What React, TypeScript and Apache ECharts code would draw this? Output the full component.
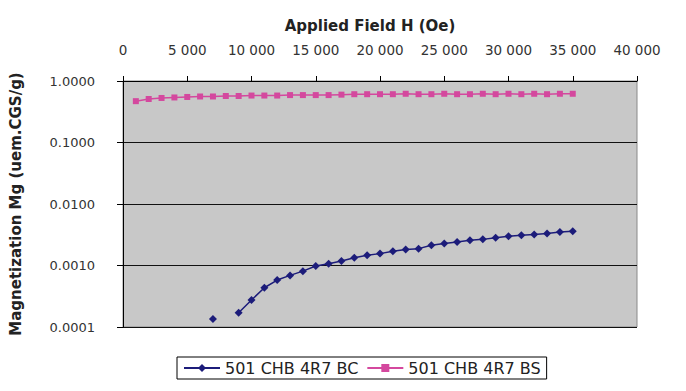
import React, { useEffect, useRef } from "react";
import * as echarts from "echarts";

const fieldH = [
  1000, 2000, 3000, 4000, 5000, 6000, 7000, 8000, 9000, 10000,
  11000, 12000, 13000, 14000, 15000, 16000, 17000, 18000, 19000, 20000,
  21000, 22000, 23000, 24000, 25000, 26000, 27000, 28000, 29000, 30000,
  31000, 32000, 33000, 34000, 35000,
];

const seriesBC = [
  null, null, null, null, null, null, 0.000135, null, 0.00017, 0.000275,
  0.000435, 0.00058, 0.00069, 0.00081, 0.00098, 0.00107, 0.00118, 0.00134, 0.00147, 0.00156,
  0.0017, 0.00182, 0.00188, 0.00214, 0.00228, 0.0024, 0.00257, 0.00266, 0.00283, 0.003,
  0.0031, 0.0032, 0.0033, 0.0035, 0.0036,
];

const seriesBS = [
  0.47, 0.51, 0.53, 0.54, 0.55, 0.56, 0.56, 0.57, 0.57, 0.58,
  0.58, 0.58, 0.59, 0.59, 0.59, 0.59, 0.6, 0.61, 0.61, 0.61,
  0.61, 0.62, 0.61, 0.61, 0.62, 0.61, 0.61, 0.62, 0.61, 0.62,
  0.61, 0.62, 0.61, 0.62, 0.62,
];

const seriesNames = ["501 CHB 4R7 BC", "501 CHB 4R7 BS"];
const xTickLabels = ["0", "5 000", "10 000", "15 000", "20 000", "25 000", "30 000", "35 000", "40 000"];
const yTickLabels = ["0.0001", "0.0010", "0.0100", "0.1000", "1.0000"];

const FONT = "DejaVu Sans";

export default function App() {
  const ref = useRef<HTMLDivElement>(null);
  useEffect(() => {
    if (!ref.current) return;
    const chart = echarts.init(ref.current, null, { renderer: "svg" });
    const toPairs = (vals: (number | null)[]) =>
      fieldH.map((h, i) => [h, vals[i] === null ? "-" : vals[i]]);
    chart.setOption({
      animation: false,
      backgroundColor: "#ffffff",
      grid: {
        left: 116,
        right: 49,
        top: 81,
        bottom: 64,
        show: true,
        backgroundColor: "#c8c8c8",
        borderColor: "#8a8a8a",
        borderWidth: 1,
      },
      legend: {
        left: 177,
        top: 357,
        orient: "horizontal",
        itemWidth: 36,
        itemHeight: 10,
        itemGap: 8,
        padding: [3, 6],
        borderColor: "#000",
        borderWidth: 1,
        backgroundColor: "#fff",
        textStyle: { fontFamily: FONT, fontSize: 16, color: "#222" },
        data: seriesNames,
      },
      xAxis: {
        type: "value",
        position: "top",
        min: 0,
        max: 40000,
        interval: 5000,
        name: "Applied Field H (Oe)",
        nameLocation: "middle",
        nameGap: 48,
        nameTextStyle: {
          fontFamily: FONT,
          fontSize: 15,
          fontWeight: "bold",
          color: "#222",
          padding: [0, 20, 0, 0],
        },
        axisLine: { show: true, lineStyle: { color: "#000", width: 1 } },
        axisTick: { show: true, inside: false, length: 5, lineStyle: { color: "#000" } },
        axisLabel: {
          margin: 24,
          fontFamily: FONT,
          fontSize: 13.5,
          color: "#333",
          formatter: (v: number) => xTickLabels[Math.round(v / 5000)] ?? "",
        },
        splitLine: { show: false },
      },
      yAxis: {
        type: "log",
        logBase: 10,
        min: 0.0001,
        max: 1,
        name: "Magnetization Mg (uem.CGS/g)",
        nameLocation: "middle",
        nameGap: 100,
        nameRotate: 90,
        nameTextStyle: { fontFamily: FONT, fontSize: 15, fontWeight: "bold", color: "#222" },
        axisLine: { show: true, lineStyle: { color: "#000", width: 1 } },
        axisTick: { show: true, inside: false, length: 6, lineStyle: { color: "#000" } },
        axisLabel: {
          margin: 28,
          fontFamily: FONT,
          fontSize: 13,
          color: "#333",
          formatter: (v: number) => yTickLabels[Math.round(Math.log10(v)) + 4] ?? "",
        },
        splitLine: { show: true, lineStyle: { color: "#111", width: 1 } },
        minorTick: { show: false },
      },
      series: [
        {
          name: seriesNames[0],
          type: "line",
          data: toPairs(seriesBC),
          connectNulls: false,
          symbol: "diamond",
          symbolSize: 8,
          lineStyle: { color: "#1c1c7a", width: 1.5 },
          itemStyle: { color: "#1c1c7a" },
        },
        {
          name: seriesNames[1],
          type: "line",
          data: toPairs(seriesBS),
          symbol: "rect",
          symbolSize: 6,
          lineStyle: { color: "#d4489e", width: 1.5 },
          itemStyle: { color: "#d4489e" },
        },
      ],
    });
    return () => chart.dispose();
  }, []);
  return (
    <div
      ref={ref}
      style={{ position: "fixed", left: 0, top: 0, width: 686, height: 391, background: "#fff" }}
    />
  );
}
